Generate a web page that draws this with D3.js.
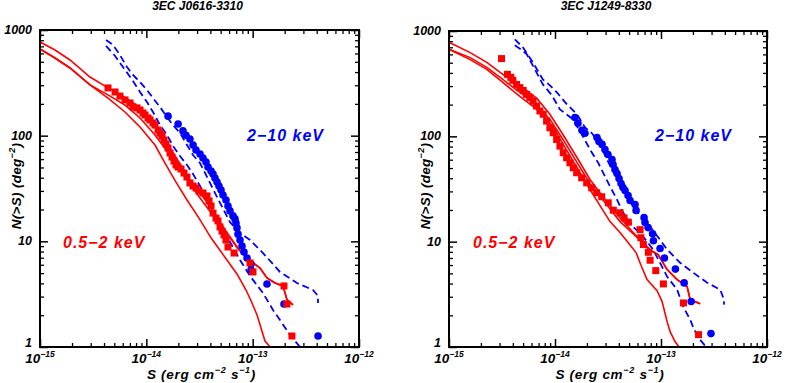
<!DOCTYPE html>
<html>
<head>
<meta charset="utf-8">
<script src="https://cdn.jsdelivr.net/npm/d3@7"></script>
<style>
  body { margin: 0; background: #fff; }
  text { font-family: "Liberation Sans", Arial, sans-serif; font-weight: bold; font-style: italic; }
</style>
</head>
<body>
<div id="chart"></div>
<script>
// ---- 3EC J0616-3310 : sources, [S (erg cm-2 s-1), N(>S) (deg-2)]
const softA = [[4.36e-15,283],[5.08e-15,259],[5.65e-15,237],[6.30e-15,218],[7.02e-15,204],[7.49e-15,187],[8.17e-15,183],[8.72e-15,175],[9.30e-15,164],[9.72e-15,157],[1.037e-14,147],[1.083e-14,141],[1.155e-14,132],[1.206e-14,126],[1.288e-14,113],[1.345e-14,106],[1.404e-14,99.3],[1.466e-14,91.0],[1.531e-14,83.4],[1.599e-14,76.4],[1.670e-14,68.6],[1.743e-14,62.8],[1.821e-14,57.6],[1.901e-14,52.8],[1.986e-14,50.5],[2.12e-14,48.4],[2.26e-14,44.3],[2.41e-14,40.6],[2.57e-14,35.7],[2.75e-14,33.4],[2.93e-14,32.0],[3.13e-14,29.9],[3.41e-14,28.7],[3.72e-14,26.9],[3.89e-14,24.1],[4.06e-14,21.6],[4.24e-14,18.5],[4.52e-14,16.6],[4.72e-14,15.6],[4.93e-14,13.7],[5.15e-14,12.5],[5.38e-14,11.5],[5.61e-14,10.3],[5.86e-14,8.84],[6.68e-14,7.75],[9.44e-14,6.24],[1.007e-13,5.13],[1.97e-13,3.78],[2.10e-13,2.55],[2.34e-13,1.27]];
const hardA = [[1.60e-14,153],[1.99e-14,129],[2.21e-14,111],[2.36e-14,101],[2.57e-14,93],[2.75e-14,81.6],[2.93e-14,73.2],[3.20e-14,67.1],[3.41e-14,61.5],[3.64e-14,56.3],[3.80e-14,50.5],[4.06e-14,46.3],[4.24e-14,43.4],[4.42e-14,39.8],[4.62e-14,36.4],[4.82e-14,33.4],[5.04e-14,30.6],[5.26e-14,27.4],[5.61e-14,24.6],[5.86e-14,21.6],[6.12e-14,19.4],[6.53e-14,17.4],[6.82e-14,16.3],[6.97e-14,14.9],[7.12e-14,13.4],[7.28e-14,11.7],[7.60e-14,10.3],[7.94e-14,9.03],[8.29e-14,7.93],[8.85e-14,6.95],[9.65e-14,6.10],[9.65e-14,5.35],[1.364e-13,3.95],[1.97e-13,2.55],[4.12e-13,1.27]];
// reference curves (0.5-2 keV solid, 2-10 keV dashed)
const softRefA1 = [[1.00e-15,770],[1.384e-15,647],[1.915e-15,520],[2.953e-15,359],[4.36e-15,283],[6.03e-15,237],[7.82e-15,199],[1.037e-14,157],[1.345e-14,113],[1.670e-14,76.4],[2.073e-14,53.9],[2.575e-14,38.1],[3.198e-14,28.7],[3.970e-14,21.6],[4.930e-14,15.2],[6.122e-14,10.8],[7.280e-14,8.46],[8.47e-14,7.27],[9.86e-14,6.38],[1.172e-13,5.59],[1.364e-13,4.50],[1.623e-13,4.03],[1.929e-13,3.78],[2.104e-13,2.79],[2.395e-13,2.50]];
const softRefA2 = [[1.00e-15,661],[1.384e-15,543],[1.915e-15,437],[2.953e-15,302],[4.36e-15,243],[6.30e-15,195],[8.72e-15,147],[1.206e-14,101.5],[1.670e-14,65.6],[2.311e-14,40.6],[3.198e-14,25.7],[4.146e-14,18.1],[5.495e-14,12.8],[7.280e-14,8.65],[8.47e-14,7.27],[9.86e-14,6.38],[1.172e-13,5.59],[1.364e-13,4.50],[1.623e-13,4.03],[1.929e-13,3.78],[2.104e-13,2.79],[2.395e-13,2.50]];
const softRefA3 = [[1.00e-15,661],[1.384e-15,543],[1.915e-15,437],[2.953e-15,302],[4.36e-15,227],[6.30e-15,167.5],[8.72e-15,120.8],[1.206e-14,81.6],[1.498e-14,55.1],[1.901e-14,36.4],[2.413e-14,24.6],[3.128e-14,16.6],[4.057e-14,10.8],[5.38e-14,7.27],[7.12e-14,4.91],[8.66e-14,3.46],[9.86e-14,2.61],[1.099e-13,2.01],[1.198e-13,1.51],[1.306e-13,1.14],[1.456e-13,1.00]];
const hardRefA1 = [[4.18e-15,804],[4.86e-15,721],[5.65e-15,580],[6.58e-15,446],[7.49e-15,375],[8.72e-15,322],[1.015e-14,270],[1.155e-14,227],[1.345e-14,187],[1.564e-14,150],[1.781e-14,126],[2.073e-14,106],[2.413e-14,81.6],[2.748e-14,65.6],[3.198e-14,55.1],[3.970e-14,35.7],[4.930e-14,23.1],[6.122e-14,15.2],[7.602e-14,12.0],[9.44e-14,10.3],[1.251e-13,7.75],[1.807e-13,5.13],[2.612e-13,4.03],[3.694e-13,3.46],[4.117e-13,3.04],[4.117e-13,2.61]];
const hardRefA2 = [[4.18e-15,706],[5.08e-15,568],[6.03e-15,446],[6.73e-15,383],[7.49e-15,329],[8.72e-15,259],[1.015e-14,208],[1.155e-14,167.5],[1.345e-14,126],[1.564e-14,101.5],[1.781e-14,79.8],[2.073e-14,64.2],[2.413e-14,52.8],[2.748e-14,43.4],[3.198e-14,33.4],[3.970e-14,21.1],[4.930e-14,14.3],[6.122e-14,9.86],[7.602e-14,6.66],[9.44e-14,4.70],[1.251e-13,3.24],[1.554e-13,2.24],[1.807e-13,1.80],[2.245e-13,1.30],[2.787e-13,1.00]];

// ---- 3EC J1249-8330
const softB = [[3.13e-15,547],[3.56e-15,388],[3.83e-15,363],[4.00e-15,340],[4.34e-15,311],[4.66e-15,290],[5.01e-15,273],[5.39e-15,250],[5.79e-15,233],[6.22e-15,216],[6.70e-15,194],[7.20e-15,174],[7.74e-15,162],[8.33e-15,139.5],[8.95e-15,120.7],[9.62e-15,108.2],[1.036e-14,93.4],[1.113e-14,80.7],[1.196e-14,69.9],[1.287e-14,62.6],[1.383e-14,56.1],[1.486e-14,50.3],[1.600e-14,45.1],[1.784e-14,40.4],[1.990e-14,36.2],[2.22e-14,32.5],[2.47e-14,29.1],[2.76e-14,26.7],[3.18e-14,23.4],[3.55e-14,19.9],[4.11e-14,18.8],[4.48e-14,16.8],[4.92e-14,15.3],[6.35e-14,13.0],[6.45e-14,10.9],[6.82e-14,9.39],[7.60e-14,7.93],[7.89e-14,6.66],[8.93e-14,5.31],[1.054e-13,3.97],[1.628e-13,2.62],[2.26e-13,1.31]];
const hardB = [[1.542e-14,151],[1.646e-14,133],[1.796e-14,114],[1.917e-14,107],[2.49e-14,97.6],[2.60e-14,89.4],[2.78e-14,83.8],[2.96e-14,75.1],[3.16e-14,67.3],[3.45e-14,60.3],[3.53e-14,54.1],[3.68e-14,48.4],[3.85e-14,44.4],[4.02e-14,39.8],[4.20e-14,35.7],[4.38e-14,32.7],[4.58e-14,30.6],[4.89e-14,27.4],[5.11e-14,24.6],[5.69e-14,22.5],[5.82e-14,19.8],[6.92e-14,16.9],[7.07e-14,15.2],[7.55e-14,13.6],[8.33e-14,11.9],[8.48e-14,10.2],[9.80e-14,8.60],[1.077e-13,6.99],[1.368e-13,5.49],[1.653e-13,4.06],[1.925e-13,2.70],[2.96e-13,1.34]];
const softRefB1 = [[1.00e-15,781],[1.569e-15,627],[2.272e-15,504],[3.218e-15,388],[4.659e-15,305],[6.744e-15,229],[8.95e-15,162],[1.188e-14,104],[1.611e-14,63.0],[2.138e-14,38.9],[2.962e-14,25.1],[4.106e-14,16.9],[5.818e-14,11.4],[7.889e-14,8.41],[9.389e-14,7.54],[1.142e-13,5.43],[1.420e-13,4.36],[1.765e-13,3.74],[1.884e-13,2.82],[2.342e-13,2.58]];
const softRefB2 = [[1.00e-15,670],[1.569e-15,562],[2.272e-15,452],[3.218e-15,347],[4.659e-15,261],[6.744e-15,197],[8.95e-15,145],[1.188e-14,93.4],[1.611e-14,56.5],[2.138e-14,35.7],[2.962e-14,23.5],[4.106e-14,15.5],[5.818e-14,11.2],[7.889e-14,8.23],[9.389e-14,7.54],[1.142e-13,5.43],[1.420e-13,4.36],[1.765e-13,3.74],[1.884e-13,2.82],[2.342e-13,2.58]];
const softRefB3 = [[1.00e-15,670],[1.569e-15,538],[2.272e-15,432],[3.218e-15,325],[4.659e-15,239],[6.744e-15,180],[9.555e-15,124],[1.241e-14,78.4],[1.611e-14,50.6],[2.138e-14,31.3],[2.657e-14,22.0],[3.304e-14,15.5],[4.106e-14,12.2],[4.887e-14,9.80],[5.818e-14,7.88],[6.486e-14,5.93],[7.389e-14,4.36],[9.186e-14,3.43],[1.024e-13,2.70],[1.142e-13,1.74],[1.219e-13,1.40],[1.359e-13,1.12],[1.483e-13,1.0]];
const hardRefB1 = [[4.178e-15,834],[4.974e-15,700],[6.181e-15,504],[7.687e-15,347],[8.95e-15,305],[1.042e-14,261],[1.296e-14,201],[1.611e-14,162],[1.917e-14,121.5],[2.233e-14,106.8],[2.657e-14,83.8],[3.028e-14,63.0],[3.451e-14,48.4],[4.106e-14,36.5],[4.782e-14,26.8],[5.692e-14,20.2],[7.389e-14,15.2],[9.80e-14,10.4],[1.142e-13,8.41],[1.516e-13,6.30],[2.011e-13,5.08],[2.728e-13,4.08],[3.620e-13,3.50],[3.864e-13,2.94],[3.949e-13,2.52]];
const hardRefB2 = [[4.178e-15,731],[4.762e-15,670],[5.426e-15,600],[6.457e-15,432],[7.687e-15,311],[9.35e-15,245],[1.113e-14,180],[1.476e-14,145],[1.835e-14,99.8],[2.138e-14,75.1],[2.544e-14,56.5],[2.836e-14,45.4],[3.304e-14,33.4],[3.846e-14,25.1],[4.384e-14,18.9],[5.450e-14,13.9],[6.774e-14,11.2],[8.42e-14,8.41],[9.80e-14,6.30],[1.142e-13,4.66],[1.420e-13,3.50],[1.618e-13,2.42],[1.884e-13,1.82],[2.056e-13,1.46],[2.342e-13,1.17],[2.669e-13,1.0]];

const xTicks = [1e-15, 1e-14, 1e-13, 1e-12];
const xTickExp = ["\u221215", "\u221214", "\u221213", "\u221212"];
const yTicks = [1, 10, 100, 1000];
const yTickLabels = ["1", "10", "100", "1000"];

const RED = "#ff0000", BLUE = "#0000ff";

const svg = d3.select("#chart").append("svg")
    .attr("width", 785)
    .attr("height", 383);

function drawPanel(cfg) {
    let g = svg.append("g");

    let x = d3.scaleLog().domain([1e-15, 1e-12]).range([cfg.left, cfg.right]);
    let y = d3.scaleLog().domain([1, 1000]).range([cfg.bottom, cfg.top]);

    // clip to plot box
    g.append("clipPath").attr("id", cfg.id + "-clip")
        .append("rect")
        .attr("x", cfg.left).attr("y", cfg.top)
        .attr("width", cfg.right - cfg.left).attr("height", cfg.bottom - cfg.top);

    let minorX = x.ticks().filter(d => !xTicks.includes(d));
    let minorY = y.ticks().filter(d => !yTicks.includes(d));

    // inward ticks on all four sides
    let axes = [
        [d3.axisBottom(x), `translate(0,${cfg.bottom})`, minorX, xTicks],
        [d3.axisTop(x), `translate(0,${cfg.top})`, minorX, xTicks],
        [d3.axisLeft(y), `translate(${cfg.left},0)`, minorY, yTicks],
        [d3.axisRight(y), `translate(${cfg.right},0)`, minorY, yTicks]
    ];
    axes.forEach(([ax, tr, minor, major]) => {
        g.append("g").attr("transform", tr)
            .call(ax.tickValues(minor).tickSize(-4).tickFormat(""))
            .call(s => s.select(".domain").remove())
            .selectAll("line").attr("stroke", "#000").attr("stroke-width", 1.3);
        g.append("g").attr("transform", tr)
            .call(ax.tickValues(major).tickSize(-8).tickFormat(""))
            .call(s => s.select(".domain").remove())
            .selectAll("line").attr("stroke", "#000").attr("stroke-width", 1.5);
    });

    let plot = g.append("g").attr("clip-path", `url(#${cfg.id}-clip)`);
    let line = d3.line().x(d => x(d[0])).y(d => y(d[1]));

    cfg.hardRefs.forEach(r => {
        plot.append("path").attr("d", line(r))
            .attr("fill", "none").attr("stroke", BLUE)
            .attr("stroke-width", 1.8).attr("stroke-dasharray", "7,4");
    });
    cfg.softRefs.forEach(r => {
        plot.append("path").attr("d", line(r))
            .attr("fill", "none").attr("stroke", RED)
            .attr("stroke-width", 1.6);
    });

    plot.selectAll(".hard").data(cfg.hard).enter()
        .append("circle")
        .attr("class", "hard")
        .attr("cx", d => x(d[0]))
        .attr("cy", d => y(d[1]))
        .attr("r", 3.8)
        .attr("fill", BLUE);

    let sq = 7;
    plot.selectAll(".soft").data(cfg.soft).enter()
        .append("rect")
        .attr("class", "soft")
        .attr("x", d => x(d[0]) - sq / 2)
        .attr("y", d => y(d[1]) - sq / 2)
        .attr("width", sq).attr("height", sq)
        .attr("fill", RED);

    // frame
    g.append("rect")
        .attr("x", cfg.left).attr("y", cfg.top)
        .attr("width", cfg.right - cfg.left).attr("height", cfg.bottom - cfg.top)
        .attr("fill", "none").attr("stroke", "#000").attr("stroke-width", 2);

    // tick labels
    xTicks.forEach((v, i) => {
        let t = g.append("text")
            .attr("x", x(v)).attr("y", cfg.bottom + 16)
            .attr("text-anchor", "middle")
            .attr("font-size", 13.5);
        t.append("tspan").text("10");
        t.append("tspan").attr("dy", -6).attr("font-size", 8.5).text(xTickExp[i]);
    });
    yTicks.forEach((v, i) => {
        g.append("text")
            .attr("x", cfg.left - 8).attr("y", y(v) - (v === 1 ? 4.5 : 0.5))
            .attr("dy", "0.36em")
            .attr("text-anchor", "end")
            .attr("font-size", 12.5)
            .text(yTickLabels[i]);
    });

    // axis titles
    let xl = g.append("text")
        .attr("x", (cfg.left + cfg.right) / 2 + 2).attr("y", 379)
        .attr("text-anchor", "middle").attr("font-size", 13.5)
        .attr("letter-spacing", 0.7);
    xl.append("tspan").text("S (erg cm");
    xl.append("tspan").attr("dy", -6).attr("font-size", 9).text("\u22122");
    xl.append("tspan").attr("dy", 6).text(" s");
    xl.append("tspan").attr("dy", -6).attr("font-size", 9).text("\u22121");
    xl.append("tspan").attr("dy", 6).text(")");

    let yl = g.append("text")
        .attr("transform", `translate(${cfg.left - 19},186) rotate(-90)`)
        .attr("text-anchor", "middle").attr("font-size", 13.5)
        .attr("letter-spacing", 0.3);
    yl.append("tspan").text("N(>S) (deg");
    yl.append("tspan").attr("dy", -6).attr("font-size", 9).text("\u22122");
    yl.append("tspan").attr("dy", 6).text(")");

    // title
    g.append("text")
        .attr("x", (cfg.left + cfg.right) / 2 - 2).attr("y", 10)
        .attr("text-anchor", "middle").attr("font-size", 12)
        .text(cfg.title);

    // band labels
    g.append("text")
        .attr("x", cfg.left + cfg.hardLabelDx).attr("y", 141)
        .attr("font-size", 16).attr("letter-spacing", 1)
        .attr("fill", BLUE).text("2\u221210 keV");
    g.append("text")
        .attr("x", cfg.left + cfg.softLabelDx).attr("y", 248)
        .attr("font-size", 16).attr("letter-spacing", 1)
        .attr("fill", RED).text("0.5\u22122 keV");
}

drawPanel({
    id: "pA", title: "3EC J0616-3310",
    left: 40, right: 359, top: 30, bottom: 347,
    soft: softA, hard: hardA,
    softRefs: [softRefA1, softRefA2, softRefA3],
    hardRefs: [hardRefA1, hardRefA2],
    hardLabelDx: 207, softLabelDx: 23
});
drawPanel({
    id: "pB", title: "3EC J1249-8330",
    left: 449, right: 767, top: 31, bottom: 347,
    soft: softB, hard: hardB,
    softRefs: [softRefB1, softRefB2, softRefB3],
    hardRefs: [hardRefB1, hardRefB2],
    hardLabelDx: 206, softLabelDx: 24
});
</script>
</body>
</html>
